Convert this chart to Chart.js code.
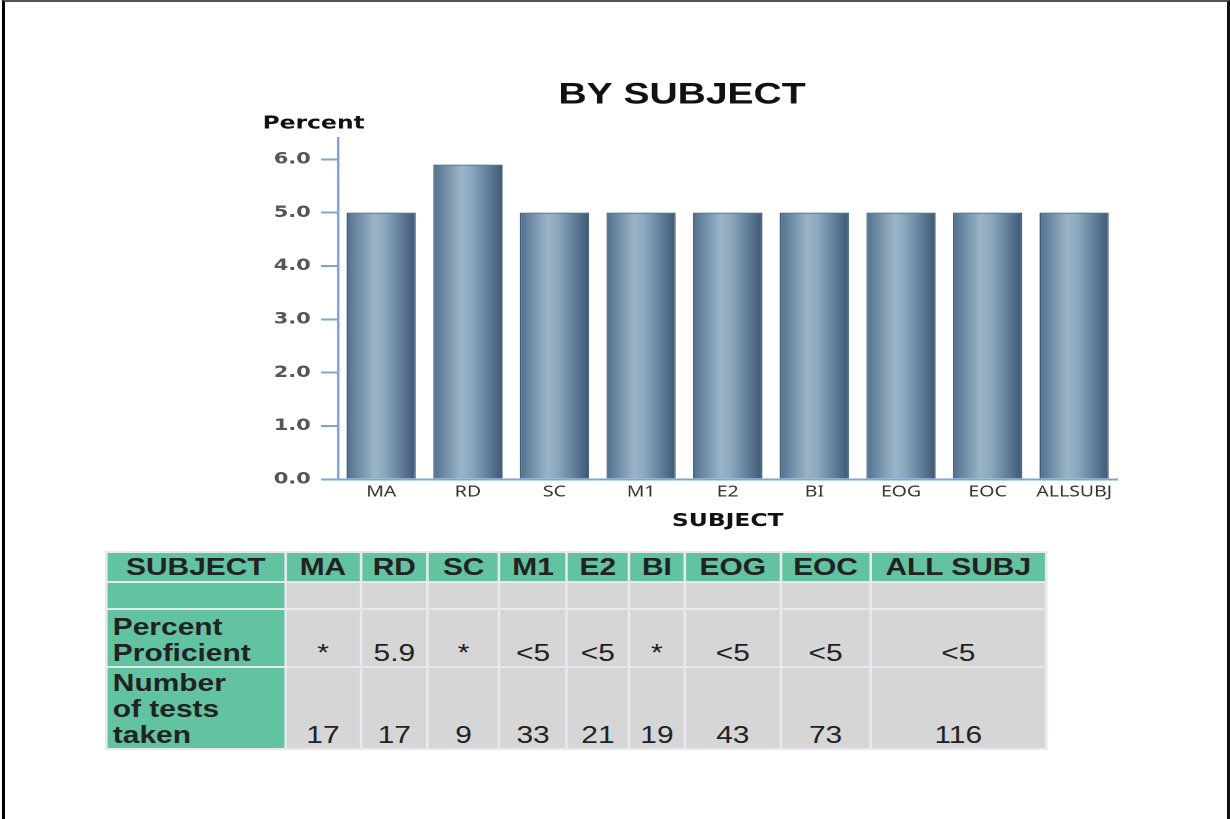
<!DOCTYPE html>
<html>
<head>
<meta charset="utf-8">
<script src="https://cdn.jsdelivr.net/npm/chart.js@4"></script>
<style>
  html, body { margin: 0; padding: 0; background: #fff; }
  body { width: 1230px; height: 819px; position: relative; overflow: hidden; }
  #frame { position: absolute; left: 2px; top: 0; width: 1222px; height: 830px;
           border-left: 3px solid #000; border-right: 3px solid #111; border-top: 2px solid #555; }
  #chartBox { position: absolute; left: 240px; top: 70px; width: 680px; height: 470px;
              transform: scaleX(1.3); transform-origin: 0 0; }
  #tableBox { position: absolute; left: 105px; top: 551px; transform: scaleX(1.3); transform-origin: 0 0; }
  table { border-collapse: collapse; width: 725px; height: 197px; font-family: "Liberation Sans", Arial, sans-serif;
          font-size: 23px; color: #222; border: 2px solid #c9d3e0; }
  td, th { border: 2px solid #e8e9ee; padding: 0 4px; text-align: center; vertical-align: bottom; line-height: 26px; }
  th { background: #62c3a1; font-weight: bold; height: 28px; vertical-align: middle; }
  td { background: #d6d6d6; }
  td.lab { background: #62c3a1; font-weight: bold; text-align: left; }
</style>
</head>
<body>
<div id="frame"></div>
<div id="chartBox"><canvas id="subjectChart" width="680" height="470" style="width:680px;height:470px"></canvas></div>
<div id="tableBox"><table id="subjTable"></table></div>
<script>
// Данные диаграммы
const subjects = ['MA', 'RD', 'SC', 'M1', 'E2', 'BI', 'EOG', 'EOC', 'ALLSUBJ'];
const percentValues = [5.0, 5.9, 5.0, 5.0, 5.0, 5.0, 5.0, 5.0, 5.0];
const yTicks = [0, 1, 2, 3, 4, 5, 6];

// Данные таблицы
const tableSubjects = ['MA', 'RD', 'SC', 'M1', 'E2', 'BI', 'EOG', 'EOC', 'ALL SUBJ'];
const percentProficient = ['*', '5.9', '*', '<5', '<5', '*', '<5', '<5', '<5'];
const testsTaken = [17, 17, 9, 33, 21, 19, 43, 73, 116];
const colWidths = [138, 58, 52, 55, 52, 48, 43, 74, 69, 136];

// Градиент для столбцов
function barGradient(c) {
    const chart = c.chart;
    if (!chart.chartArea || !chart.scales.x) return '#7a97b3';
    const xs = chart.scales.x;
    const center = xs.getPixelForValue(c.dataIndex);
    const half = xs.width / subjects.length * 0.8 / 2;
    const g = chart.ctx.createLinearGradient(center - half, 0, center + half, 0);
    g.addColorStop(0, '#52708f');
    g.addColorStop(0.4, '#9bb5c7');
    g.addColorStop(0.55, '#8ca8be');
    g.addColorStop(1, '#3d5877');
    return g;
}

// Заголовок и подпись оси Y
const textPlugin = {
    id: 'textPlugin',
    afterDraw(chart) {
        const ctx = chart.ctx;
        const area = chart.chartArea;
        ctx.save();
        ctx.fillStyle = '#111';
        ctx.textBaseline = 'middle';
        ctx.textAlign = 'center';
        ctx.font = 'bold 30px "Liberation Sans", Arial, sans-serif';
        ctx.fillText('BY SUBJECT', chart.width / 2, 25);
        ctx.textAlign = 'left';
        ctx.font = 'bold 18px "DejaVu Sans", sans-serif';
        ctx.fillText('Percent', area.left - 58, 54);
        ctx.restore();
    }
};

const subjectConfig = {
    type: 'bar',
    data: {
        labels: subjects,
        datasets: [{
            data: percentValues,
            backgroundColor: barGradient,
            borderColor: '#415d7c',
            borderWidth: 1,
            barPercentage: 0.8,
            categoryPercentage: 1.0
        }]
    },
    options: {
        responsive: false,
        animation: false,
        devicePixelRatio: 2,
        layout: { padding: { top: 68, left: 18, right: 5, bottom: 6 } },
        plugins: {
            legend: { display: false },
            tooltip: { enabled: false }
        },
        scales: {
            x: {
                grid: { display: false },
                border: { color: '#79a6d8', width: 2 },
                ticks: {
                    color: '#333',
                    padding: -4,
                    font: { family: '"Noto Sans", sans-serif', size: 15 }
                },
                title: {
                    display: true,
                    text: 'SUBJECT',
                    color: '#111',
                    padding: { top: 13, bottom: 2 },
                    font: { family: '"DejaVu Sans", sans-serif', size: 18, weight: 'bold' }
                }
            },
            y: {
                min: 0,
                max: 6.4,
                afterBuildTicks(axis) {
                    axis.ticks = yTicks.map(v => ({ value: v }));
                },
                grid: { drawOnChartArea: false, color: '#79a6d8', lineWidth: 2, tickLength: 13 },
                border: { color: '#79a6d8', width: 2 },
                ticks: {
                    color: '#555',
                    padding: 8,
                    font: { family: '"DejaVu Sans", sans-serif', size: 16, weight: 'bold' },
                    callback: v => v.toFixed(1)
                }
            }
        }
    },
    plugins: [textPlugin]
};

// Таблица под диаграммой
function buildTable() {
    const t = document.getElementById('subjTable');
    let html = '<colgroup>' + colWidths.map(w => '<col style="width:' + w + 'px">').join('') + '</colgroup>';
    html += '<tr><th>SUBJECT</th>' + tableSubjects.map(s => '<th>' + s + '</th>').join('') + '</tr>';
    html += '<tr style="height:27px"><td class="lab"></td>' + tableSubjects.map(() => '<td></td>').join('') + '</tr>';
    html += '<tr style="height:58px"><td class="lab">Percent<br>Proficient</td>' +
        percentProficient.map(v => '<td>' + v.replace('<', '&lt;') + '</td>').join('') + '</tr>';
    html += '<tr style="height:82px"><td class="lab">Number<br>of tests<br>taken</td>' +
        testsTaken.map(v => '<td>' + v + '</td>').join('') + '</tr>';
    t.innerHTML = html;
}

window.onload = function() {
    buildTable();
    const ctx = document.getElementById('subjectChart').getContext('2d');
    new Chart(ctx, subjectConfig);
};
</script>
</body>
</html>
